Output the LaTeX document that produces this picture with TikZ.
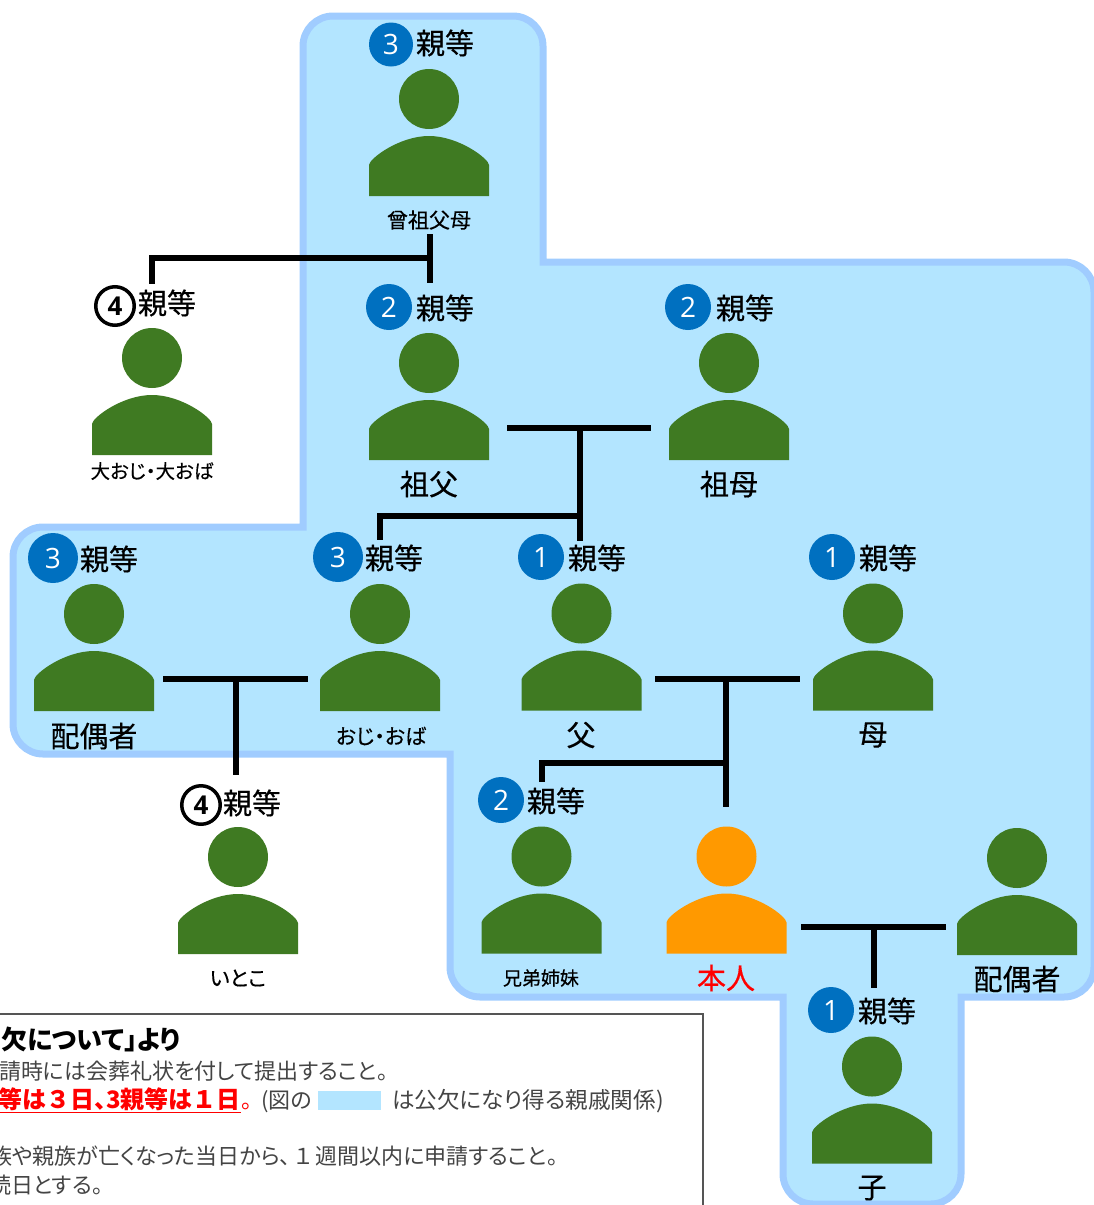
\documentclass[tikz,border=0pt]{standalone}
\usepackage{fontspec}
\setmainfont{Noto Sans CJK JP}
\newfontfamily\numfont{Open Sans}
\newfontfamily\labelfont{Noto Sans CJK JP}[FakeBold=0.4,RawFeature=+palt]
\newfontfamily\notefont{Noto Sans CJK JP}[RawFeature=+palt]
\definecolor{regionfill}{HTML}{B3E5FF}
\definecolor{regionline}{HTML}{A0CCFF}
\definecolor{persongreen}{HTML}{3F7A22}
\definecolor{selforange}{HTML}{FF9900}
\definecolor{badgeblue}{HTML}{0070C0}
\definecolor{boxline}{HTML}{555555}
\definecolor{notegray}{HTML}{444444}
\newcommand{\fsz}[1]{\fontsize{#1pt}{#1pt}\selectfont}
\tikzset{
  x=1pt,y=-1pt,
  region/.style={draw=regionline,fill=regionfill,line width=7pt,line join=miter},
  head/.style={circle,minimum size=60pt,inner sep=0pt,fill=#1},
  link/.style={line width=5.5pt,black},
  bigtxt/.style={inner sep=0pt,font=\labelfont\fsz{29}},
  smalltxt/.style={inner sep=0pt,font=\labelfont\fsz{21}},
  badge/.style={circle,minimum size=46pt,inner sep=0pt,fill=badgeblue,text=white,font=\numfont\fsz{28}},
  badgefour/.style={circle,minimum size=38.5pt,inner sep=0pt,draw=black,line width=3.5pt,fill=white,text=black,font=\numfont\bfseries\fsz{26}},
  note/.style={inner sep=0pt,anchor=base east,text=notegray,font=\notefont\fsz{22}},
}
% #1 name, #2 x, #3 head y, #4 colour
\newcommand{\personfig}[4]{%
  \node[head=#4] (#1) at (#2,#3) {};
  \fill[#4] (#2-60,#3+97) -- (#2-60,#3+66)
    .. controls (#2-60,#3+60) and (#2-30,#3+37) .. (#2,#3+37)
    .. controls (#2+30,#3+37) and (#2+60,#3+60) .. (#2+60,#3+66)
    -- (#2+60,#3+97) -- cycle;
}
\begin{document}
\begin{tikzpicture}
\useasboundingbox (0,0) rectangle (1094,1205);
\clip (0,0) rectangle (1094,1205);
% region: only the outer corners are rounded
\draw[region] (303,46) .. controls (303,29.5) and (316.5,16) .. (333,16) -- (513,16)
  .. controls (529.5,16) and (543,29.5) .. (543,46)
  -- (543,262) -- (1064,262) .. controls (1080.5,262) and (1094,275.5) .. (1094,292)
  -- (1094,967) .. controls (1094,983.5) and (1080.5,997) .. (1064,997) -- (961,997)
  -- (961,1174) .. controls (961,1190.5) and (947.5,1204) .. (931,1204) -- (813,1204)
  .. controls (796.5,1204) and (783,1190.5) .. (783,1174)
  -- (783,997) -- (480,997) .. controls (463.5,997) and (450,983.5) .. (450,967)
  -- (450,754) -- (43,754) .. controls (26.5,754) and (13,740.5) .. (13,724)
  -- (13,557) .. controls (13,540.5) and (26.5,527) .. (43,527) -- (303,527) -- cycle;
% people
\personfig{hiso}{429}{99}{persongreen}
\personfig{ooji}{152}{358}{persongreen}
\personfig{sofu}{429}{363}{persongreen}
\personfig{sobo}{729}{363}{persongreen}
\personfig{haigu}{94}{614}{persongreen}
\personfig{oji}{380}{614}{persongreen}
\personfig{chichi}{581.5}{613.5}{persongreen}
\personfig{haha}{873}{613.5}{persongreen}
\personfig{itoko}{238}{857}{persongreen}
\personfig{kyodai}{541.5}{856.5}{persongreen}
\personfig{honnin}{726.5}{856.5}{selforange}
\personfig{tsuma}{1017}{858}{persongreen}
\personfig{ko}{872}{1066.5}{persongreen}
% degree labels
\node[badge,minimum size=44pt] (b1) at (391,44.5) {3}; \node[bigtxt] (d1) at (445,43) {親等};
\node[badgefour] (b2) at (115,306) {4};  \node[bigtxt] (d2) at (167,303) {親等};
\node[badge] (b3) at (389,307) {2};      \node[bigtxt] (d3) at (445,308) {親等};
\node[badge] (b4) at (688,307) {2};      \node[bigtxt] (d4) at (745,308) {親等};
\node[badge,minimum size=50pt] (b5) at (53,558) {3};  \node[bigtxt] (d5) at (109,559) {親等};
\node[badge,minimum size=50pt] (b6) at (338,557) {3}; \node[bigtxt] (d6) at (394,558) {親等};
\node[badge] (b7) at (541,557) {1};      \node[bigtxt] (d7) at (597,558) {親等};
\node[badge] (b8) at (832,557) {1};      \node[bigtxt] (d8) at (888,558) {親等};
\node[badgefour] (b9) at (201,805) {4};  \node[bigtxt] (d9) at (252,803) {親等};
\node[badge] (b10) at (501,800) {2};     \node[bigtxt] (d10) at (556,801) {親等};
\node[badge] (b11) at (831,1010) {1};    \node[bigtxt] (d11) at (887,1011) {親等};
% names
\node[smalltxt] (n1) at (429,220) {曾祖父母};
\node[smalltxt,font=\labelfont\fsz{19.5}] (n2) at (152,471) {大おじ・大おば};
\node[bigtxt] (n3) at (429,484) {祖父};
\node[bigtxt] (n4) at (729,484) {祖母};
\node[bigtxt] (n5) at (94,736) {配偶者};
\node[smalltxt] (n6) at (381,736) {おじ・おば};
\node[bigtxt] (n7) at (581,735) {父};
\node[bigtxt] (n8) at (873,735) {母};
\node[smalltxt] (n9) at (238,978) {いとこ};
\node[smalltxt,font=\labelfont\fsz{19}] (n10) at (541,978) {兄弟姉妹};
\node[bigtxt,text=red] (n11) at (726,978) {本人};
\node[bigtxt] (n12) at (1017,979) {配偶者};
\node[bigtxt] (n13) at (872,1188) {子};
% connector end points
\coordinate (a1) at (430,234); \coordinate (a2) at (430,283); \coordinate (a3) at (430,258);
\coordinate (a4) at (152,284); \coordinate (a5) at (152,258);
\coordinate (c1) at (507,428); \coordinate (c2) at (651,428); \coordinate (c3) at (580,428);
\coordinate (c4) at (580,541); \coordinate (c5) at (580,516); \coordinate (c6) at (380,516); \coordinate (c7) at (380,540);
\coordinate (e1) at (163,679); \coordinate (e2) at (308,679); \coordinate (e3) at (236,679); \coordinate (e4) at (236,775);
\coordinate (f1) at (655,679); \coordinate (f2) at (800,679); \coordinate (f3) at (726,679); \coordinate (f4) at (726,807);
\coordinate (f5) at (726,763); \coordinate (f6) at (542,763); \coordinate (f7) at (542,782);
\coordinate (g1) at (801,927); \coordinate (g2) at (946,927); \coordinate (g3) at (874,927); \coordinate (g4) at (874,988);
% connectors
\draw[link] (a1) -- (a2);
\draw[link] (a3) -- (a5) -- (a4);
\draw[link] (c1) -- (c2);
\draw[link] (c3) -- (c4);
\draw[link] (c5) -- (c6) -- (c7);
\draw[link] (e1) -- (e2);
\draw[link] (e3) -- (e4);
\draw[link] (f1) -- (f2);
\draw[link] (f3) -- (f4);
\draw[link] (f5) -- (f6) -- (f7);
\draw[link] (g1) -- (g2);
\draw[link] (g3) -- (g4);
% note box
\draw[boxline,line width=1.2pt,fill=white] (-10,1014) rectangle (703,1230);
\node[note,text=black,font=\notefont\bfseries\fsz{26}] (t1) at (181,1049) {欠について」より};
\node[note] (t2) at (388,1079) {請時には会葬礼状を付して提出すること。};
\node[note,text=red,font=\notefont\bfseries\fsz{24}] (t3) at (241,1108) {\underline{等は\kern3pt ３\kern3pt 日、3親等は\kern3pt １\kern3pt 日}};
\node[note,text=red] (t3b) at (252,1108) {。};
\node[note] (t4) at (312,1108) {(図の};
\fill[regionfill] (318,1091) rectangle (381,1110);
\node[note,font=\notefont\fsz{22.6}] (t5) at (664,1108) {は公欠になり得る親戚関係)};
\node[note] (t6) at (558,1164) {族や親族が亡くなった当日から、\kern4pt １\kern4pt 週間以内に申請すること。};
\node[note] (t7) at (103,1193) {続日とする。};
\end{tikzpicture}
\end{document}
